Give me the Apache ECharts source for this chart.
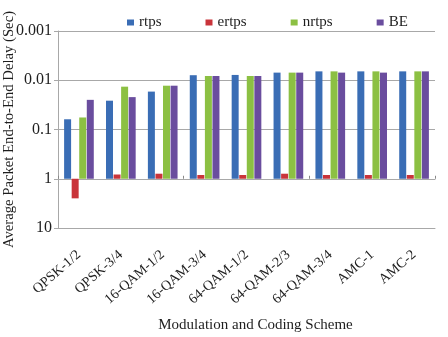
<!DOCTYPE html>
<html>
<head>
<meta charset="utf-8">
<script src="https://cdn.jsdelivr.net/npm/echarts@6/dist/echarts.min.js"></script>
<style>
    html, body { margin: 0; padding: 0; background: #fff; }
    #myChart { width: 448px; height: 337px; }
</style>
</head>
<body>
<div id="myChart"></div>
<script>
    // categories (modulation and coding schemes)
    var categories = ['QPSK-1/2', 'QPSK-3/4', '16-QAM-1/2', '16-QAM-3/4', '64-QAM-1/2',
        '64-QAM-2/3', '64-QAM-3/4', 'AMC-1', 'AMC-2'];
    // average end-to-end delay in seconds
    var rtps  = [0.062, 0.026, 0.017, 0.0079, 0.0078, 0.0070, 0.0066, 0.0066, 0.0066];
    var ertps = [2.5, 0.82, 0.79, 0.84, 0.84, 0.79, 0.84, 0.84, 0.84];
    var nrtps = [0.057, 0.0135, 0.0129, 0.0082, 0.0082, 0.0070, 0.0066, 0.0066, 0.0066];
    var be    = [0.025, 0.022, 0.0129, 0.0082, 0.0082, 0.0070, 0.0070, 0.0070, 0.0066];
    var yTicks = ['0.001', '0.01', '0.1', '1', '10'];

    var serif = 'Liberation Serif';
    var textColor = '#1e1e1e';
    var lineColor = '#a8a8a8';

    var myChart = echarts.init(document.getElementById('myChart'));

    function barSeries(name, data, color) {
        return {
            name: name,
            type: 'bar',
            data: data,
            barWidth: 7,
            barGap: '8%',
            itemStyle: { color: color }
        };
    }

    myChart.setOption({
        animation: false,
        backgroundColor: '#fff',
        legend: {
            top: 10,
            left: 122,
            icon: 'rect',
            itemWidth: 7,
            itemHeight: 6,
            itemGap: 44,
            textStyle: { fontFamily: serif, fontSize: 15, color: textColor },
            data: ['rtps', 'ertps', 'nrtps', 'BE']
        },
        grid: { left: 58, right: 13, top: 31, bottom: 109, outerBoundsMode: 'none', containLabel: false },
        xAxis: [{
                type: 'category',
                data: categories,
                position: 'bottom',
                axisLine: { lineStyle: { color: lineColor } },
                axisTick: { show: false },
                axisLabel: {
                    rotate: 41,
                    margin: 25,
                    interval: 0,
                    fontFamily: serif,
                    fontSize: 14,
                    color: textColor
                },
                name: 'Modulation and Coding Scheme',
                nameLocation: 'middle',
                nameGap: 90,
                nameMoveOverlap: false,
                nameTextStyle: { fontFamily: serif, fontSize: 15, color: textColor, padding: [0, 0, 0, 18] }
            },
            {
                // axis through the value 1, where the bars start
                type: 'category',
                data: categories,
                position: 'bottom',
                offset: -49.25,
                axisLine: { lineStyle: { color: lineColor } },
                axisTick: { show: true, inside: true, length: 3, lineStyle: { color: '#888' } },
                axisLabel: { show: false }
            }
        ],
        yAxis: {
            type: 'log',
            logBase: 10,
            inverse: true,
            min: 0.001,
            max: 10,
            axisLine: { show: true, lineStyle: { color: lineColor } },
            axisTick: { show: true, length: 4, lineStyle: { color: lineColor } },
            splitLine: { show: true, lineStyle: { color: lineColor } },
            axisLabel: {
                margin: 6,
                fontFamily: serif,
                fontSize: 16,
                color: textColor,
                formatter: function (v) {
                    var i = Math.round(Math.log10(v)) + 3;
                    return yTicks[i] !== undefined ? yTicks[i] : '';
                }
            },
            name: 'Average Packet End-to-End Delay (Sec)',
            nameLocation: 'middle',
            nameGap: 41,
            nameMoveOverlap: false,
            nameTextStyle: { fontFamily: serif, fontSize: 14.7, color: textColor }
        },
        series: [
            barSeries('rtps', rtps, '#3a6db5'),
            barSeries('ertps', ertps, '#c9343a'),
            barSeries('nrtps', nrtps, '#8cc043'),
            barSeries('BE', be, '#6a4d9e')
        ]
    });
</script>
</body>
</html>
